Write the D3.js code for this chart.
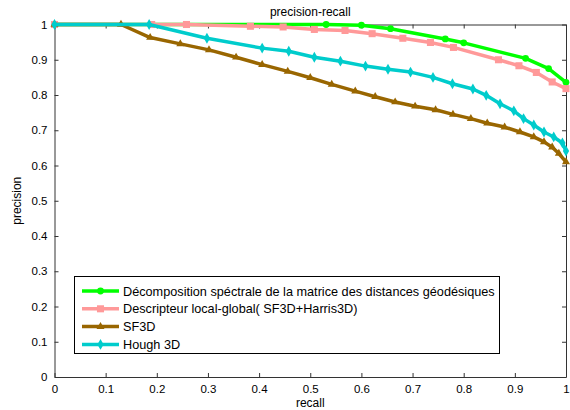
<!DOCTYPE html>
<html>
<head>
<meta charset="utf-8">
<script src="https://cdn.jsdelivr.net/npm/d3@7"></script>
<style>
  body { margin: 0; background: #fff; }
  text { font-family: "Liberation Sans", Arial, sans-serif; fill: #000; }
</style>
</head>
<body>
<script>
// courbes precision-recall
const spectraleX = [0, 0.531, 0.60, 0.657, 0.764, 0.80, 0.921, 0.966, 1.0]
const spectraleY = [1, 1, 0.998, 0.988, 0.959, 0.948, 0.904, 0.875, 0.836]

const descripteurX = [0, 0.19, 0.258, 0.383, 0.447, 0.508, 0.568, 0.621, 0.681, 0.735, 0.780, 0.868, 0.908, 0.942, 0.973, 1.0]
const descripteurY = [1, 1, 1, 0.995, 0.993, 0.986, 0.983, 0.974, 0.961, 0.949, 0.935, 0.900, 0.883, 0.864, 0.837, 0.818]

const sf3dX = [0, 0.13, 0.187, 0.246, 0.302, 0.355, 0.406, 0.456, 0.5, 0.542, 0.588, 0.627, 0.666, 0.705, 0.745, 0.779, 0.814, 0.846, 0.880, 0.910, 0.937, 0.957, 0.973, 0.986, 1.0]
const sf3dY = [1, 1, 0.963, 0.945, 0.928, 0.907, 0.886, 0.867, 0.849, 0.830, 0.811, 0.795, 0.780, 0.768, 0.758, 0.745, 0.733, 0.720, 0.709, 0.695, 0.681, 0.667, 0.652, 0.634, 0.610]

const houghX = [0, 0.185, 0.298, 0.406, 0.458, 0.508, 0.559, 0.608, 0.652, 0.696, 0.740, 0.778, 0.818, 0.844, 0.871, 0.898, 0.917, 0.937, 0.957, 0.976, 0.993, 1.0]
const houghY = [1, 1, 0.961, 0.933, 0.924, 0.907, 0.896, 0.882, 0.873, 0.865, 0.850, 0.832, 0.817, 0.799, 0.775, 0.755, 0.733, 0.715, 0.695, 0.681, 0.664, 0.641]

const noms = ["Décomposition spéctrale de la matrice des distances géodésiques",
              "Descripteur local-global( SF3D+Harris3D)",
              "SF3D",
              "Hough 3D"]
const couleurs = ["#00ff00", "#ff9999", "#996600", "#00cccc"]
const symboles = [d3.symbolCircle, d3.symbolSquare, d3.symbolTriangle, d3.symbolDiamond]
const tailles = [36, 50, 28, 34]
const ticks = [0, 0.1, 0.2, 0.3, 0.4, 0.5, 0.6, 0.7, 0.8, 0.9, 1]

let series = [
  {x: spectraleX, y: spectraleY},
  {x: descripteurX, y: descripteurY},
  {x: sf3dX, y: sf3dY},
  {x: houghX, y: houghY}
]
series.forEach((s, i) => {
  s.nom = noms[i]; s.couleur = couleurs[i]; s.symbole = symboles[i]; s.taille = tailles[i]
  s.points = s.x.map((v, j) => [v, s.y[j]])
})

let W = 570, H = 410
let m = {left: 54.5, top: 24.5, right: 4, bottom: 33}

let svg = d3.select("body").append("svg")
    .attr("width", W).attr("height", H)

let x = d3.scaleLinear().domain([0, 1]).range([m.left, W - m.right])
let y = d3.scaleLinear().domain([0, 1]).range([H - m.bottom, m.top])

// axes (cadre style matlab, graduations vers l'interieur)
let fmt = d => d === 0 ? "0" : d === 1 ? "1" : d3.format(".1f")(d)
svg.append("g").attr("transform", `translate(0,${y(0)})`)
  .call(d3.axisBottom(x).tickValues(ticks).tickFormat(fmt).tickSizeInner(-4).tickSizeOuter(0).tickPadding(8))
svg.append("g").attr("transform", `translate(${x(0)},0)`)
  .call(d3.axisLeft(y).tickValues(ticks).tickFormat(fmt).tickSizeInner(-4).tickSizeOuter(0).tickPadding(7))
svg.append("g").attr("transform", `translate(0,${y(1)})`)
  .call(d3.axisTop(x).tickValues(ticks).tickFormat("").tickSizeInner(-4).tickSizeOuter(0))
svg.append("g").attr("transform", `translate(${x(1)},0)`)
  .call(d3.axisRight(y).tickValues(ticks).tickFormat("").tickSizeInner(-4).tickSizeOuter(0))
svg.selectAll(".domain").attr("stroke", "#333")
svg.selectAll(".tick line").attr("stroke", "#333")
svg.selectAll(".tick text").attr("font-size", 11.5).attr("font-family", "Liberation Sans, Arial, sans-serif")

// courbes
let ligne = d3.line().x(d => x(d[0])).y(d => y(d[1]))
let g = svg.append("g")
series.forEach(s => {
  g.append("path").datum(s.points)
    .attr("d", ligne)
    .attr("fill", "none")
    .attr("stroke", s.couleur)
    .attr("stroke-width", 3.5)
    .attr("stroke-linejoin", "round")
  g.selectAll(null).data(s.points).join("path")
    .attr("d", d3.symbol().type(s.symbole).size(s.taille))
    .attr("transform", d => `translate(${x(d[0])},${y(d[1])})`)
    .attr("fill", s.couleur)
})

// titres
svg.append("text").attr("x", (x(0) + x(1)) / 2).attr("y", 16)
  .attr("text-anchor", "middle").attr("font-size", 12).text("precision-recall")
svg.append("text").attr("x", (x(0) + x(1)) / 2).attr("y", 407)
  .attr("text-anchor", "middle").attr("font-size", 12).text("recall")
svg.append("text").attr("transform", `translate(21,${(y(0) + y(1)) / 2}) rotate(-90)`)
  .attr("text-anchor", "middle").attr("font-size", 12).text("precision")

// legende
let leg = svg.append("g")
leg.append("rect").attr("x", 74.5).attr("y", 276.5).attr("width", 425).attr("height", 77)
  .attr("fill", "#fff").attr("stroke", "#000")
series.forEach((s, i) => {
  let ly = 291 + i * 17.8
  leg.append("line").attr("x1", 82).attr("x2", 119).attr("y1", ly).attr("y2", ly)
    .attr("stroke", s.couleur).attr("stroke-width", 3.5)
  leg.append("path").attr("d", d3.symbol().type(s.symbole).size(s.taille))
    .attr("transform", `translate(100.5,${ly})`).attr("fill", s.couleur)
  leg.append("text").attr("x", 123).attr("y", ly + 4.5).attr("font-size", 12.7).text(s.nom)
})
</script>
</body>
</html>
